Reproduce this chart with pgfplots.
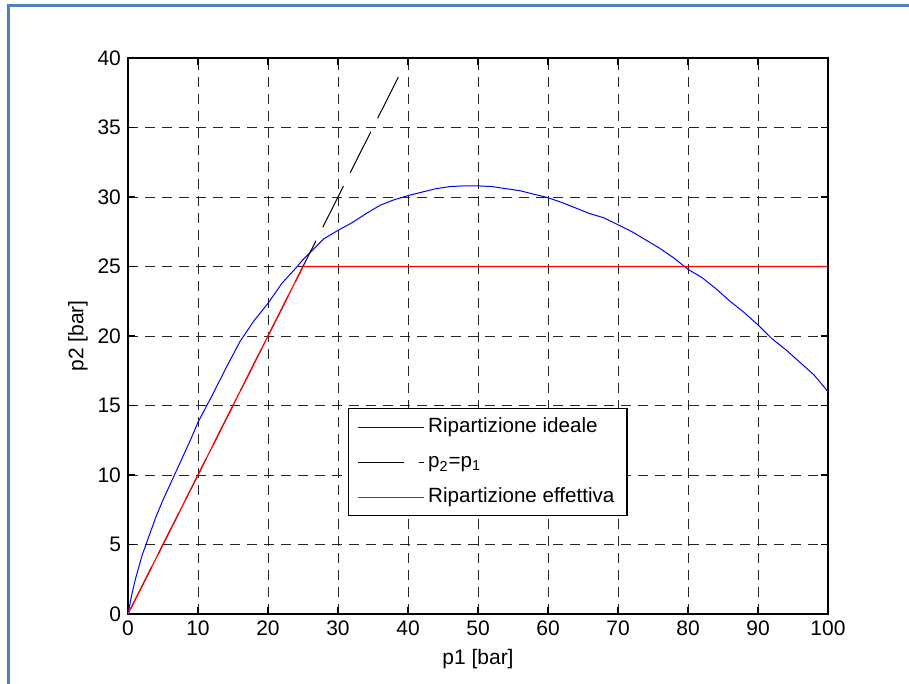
\documentclass[border=0pt]{standalone}
\usepackage{pgfplots}
\pgfplotsset{compat=1.18}
\usepackage{fontspec}
\setmainfont{Liberation Sans}
\definecolor{framebl}{RGB}{79,129,189}

\begin{document}
\begin{tikzpicture}
\useasboundingbox (-64pt,-35pt) rectangle (390.5pt,307pt);
\draw[framebl, line width=1.5pt] (-59.5pt,-36pt) -- (-59.5pt,304pt) -- (391pt,304pt);
\begin{axis}[
    at={(0pt,0pt)}, anchor=origin,
    width=350pt, height=278pt, scale only axis,
    xmin=0, xmax=100, ymin=0, ymax=40,
    xtick distance=10, ytick distance=5,
    font=\fontsize{10.5}{12}\selectfont,
    /pgf/number format/assume math mode=true,
    tick align=inside, tick pos=both,
    major tick length=3.5pt,
    axis line style={line width=0.8pt},
    tick style={black, line width=0.6pt},
    grid=major,
    major grid style={black!85, line width=0.45pt, dash pattern=on 5pt off 3.5pt},
    xlabel={p1 [bar]}, ylabel={p2 [bar]},
    ylabel style={yshift=-2pt},
    legend cell align=left,
    legend style={at={(axis cs:31.4,14.8)}, anchor=north west,
        draw=black, line width=0.6pt, fill=white,
        inner xsep=4.5pt, inner ysep=0.5pt,
        nodes={inner xsep=1.8pt, inner ysep=1pt, text height=10.5pt, text depth=5pt},
        font=\fontsize{10.3}{12}\selectfont},
    legend image code/.code={\draw[#1, dash phase=0pt] (0pt,0pt) -- (33pt,0pt);},
]
\addplot[blue, line width=0.5pt] coordinates {
(0,0) (0.5,1.3) (1,2.4) (2,4.2) (3,5.6) (4,7.0) (5,8.2) (6,9.3) (7,10.4)
(8,11.5) (9,12.6) (10,13.8) (12,15.7) (14,17.7) (16,19.6) (18,21.1)
(20,22.35) (22,23.8) (24,24.9) (25,25.5) (26,26.0) (28,27.0) (30,27.6)
(32,28.15) (34,28.8) (36,29.4) (38,29.8) (40,30.1) (42,30.35) (44,30.6)
(46,30.75) (48,30.8) (50,30.8) (52,30.75) (54,30.6) (56,30.45) (58,30.2)
(60,29.95) (62,29.6) (64,29.2) (66,28.8) (68,28.5) (70,28.0) (72,27.5)
(74,26.9) (76,26.3) (78,25.6) (80,24.8) (82,24.2) (84,23.4) (86,22.5)
(88,21.7) (90,20.8) (92,19.8) (94,19.0) (96,18.1) (98,17.2) (100,16.0)
};
\addlegendentry{Ripartizione ideale}
\addplot[black, line width=0.5pt, dash pattern=on 23pt off 7.5pt, dash phase=27.5pt] coordinates {
(0,0) (39.5,39.5)
};
\addlegendentry{p\textsubscript{2}=p\textsubscript{1}}
\addplot[red, line width=0.6pt] coordinates {
(0,0) (25,25) (100,25)
};
\addlegendentry{Ripartizione effettiva}
\end{axis}
\end{tikzpicture}
\end{document}
